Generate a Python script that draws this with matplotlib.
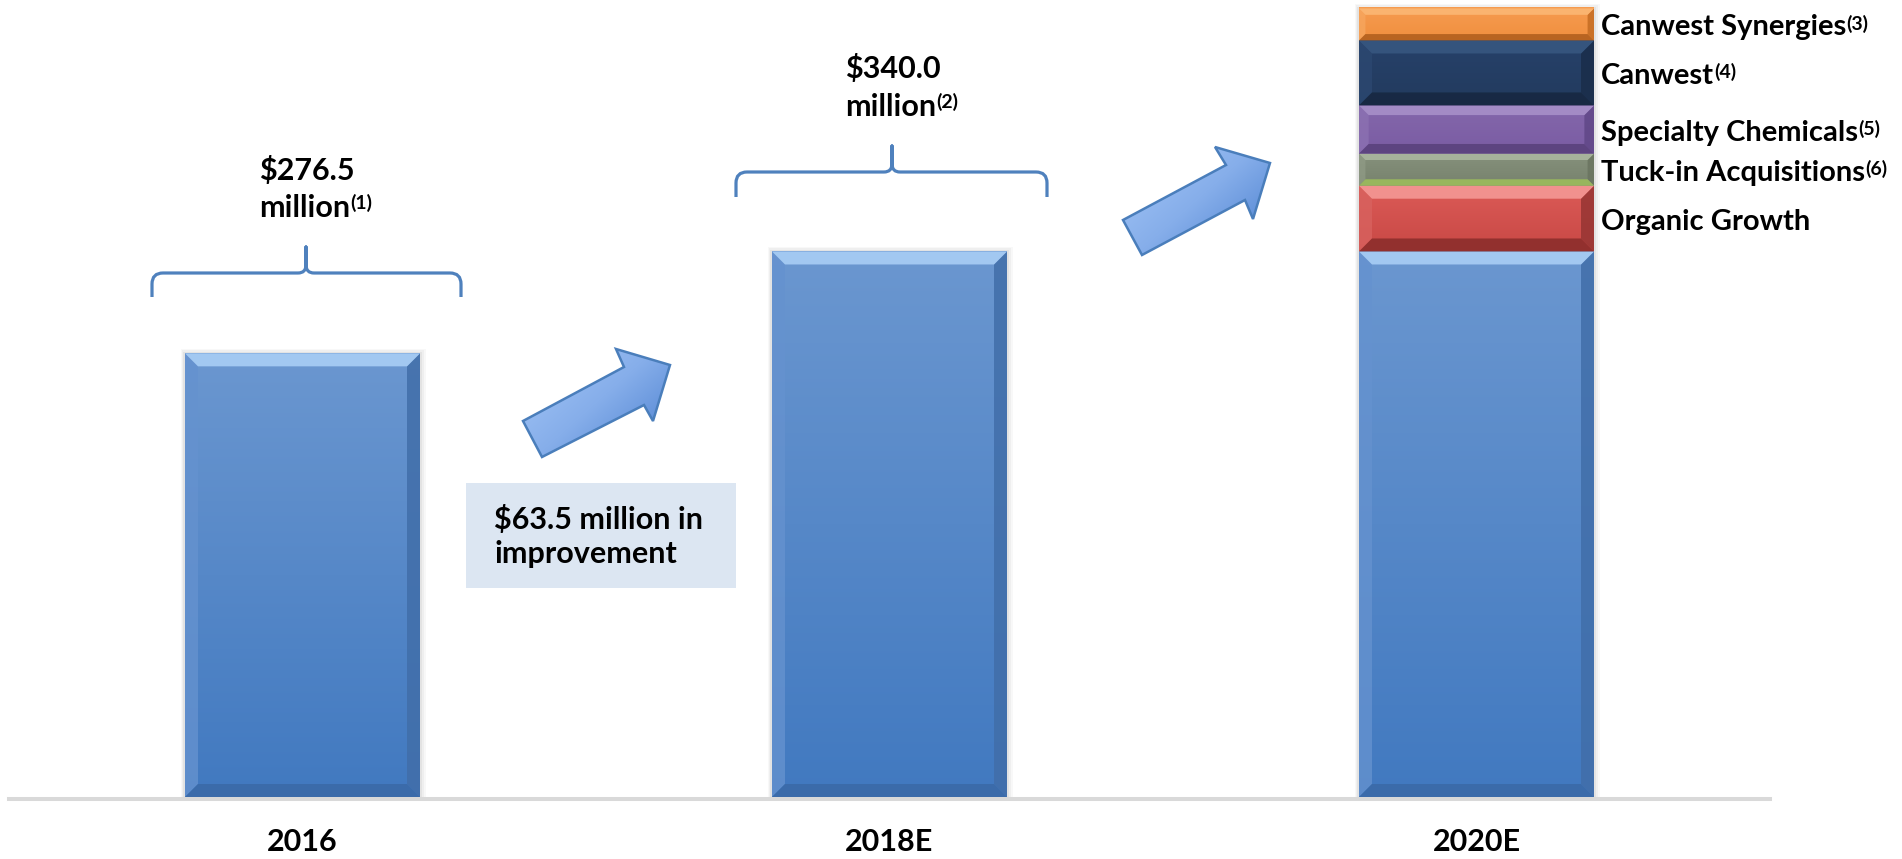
import numpy as np
import matplotlib
matplotlib.use('Agg')
import matplotlib.pyplot as plt
from matplotlib.patches import Rectangle, Polygon, PathPatch
from matplotlib.path import Path
from matplotlib.colors import LinearSegmentedColormap

# ---------------- data ----------------
categories = ['2016', '2018E', '2020E']
base_values = [276.5, 340.0, 340.0]
segment_names = ['Organic Growth', 'Tuck-in Acquisitions', 'Specialty Chemicals', 'Canwest', 'Canwest Synergies']
segment_notes = ['', '(6)', '(5)', '(4)', '(3)']
segment_values = [41.0, 20.0, 30.0, 40.5, 20.0]
value_labels = ['$276.5', '$340.0']
value_word = 'million'
value_notes = ['(1)', '(2)']
improvement_lines = ['$63.5 million in', 'improvement']

# ---------------- styles ----------------
FONT = 'Lato'
W, H = 1902, 859
PX_X = 587.0     # pixels per category step
PX_Y = 1.6045    # pixels per million
BASE_PX = 797    # baseline, px from top

blue_style = dict(top='#6b97d0', bot='#4179c0', tb='#a6cbf3', bb='#3b6aa8', lb='#6592cf', rb='#416ea9')
seg_styles = [
    dict(top='#dc5b57', bot='#c84845', tb='#f39592', bb='#8c2e2c', lb='#d8625f', rb='#963533'),  # organic (red)
    dict(top='#86917c', bot='#77826d', tb='#a9b59d', bb='#9cbc5c', lb='#8f9a85', rb='#6a7460'),  # tuck-in (olive)
    dict(top='#8467ab', bot='#7a5ca3', tb='#a58ec7', bb='#5a427d', lb='#8c71b2', rb='#604787'),  # specialty (purple)
    dict(top='#27416a', bot='#223b5e', tb='#36567f', bb='#172841', lb='#2c4871', rb='#1a2d4a'),  # canwest (navy)
    dict(top='#f69c50', bot='#f08f3f', tb='#fbb673', bb='#b2601e', lb='#f7a65e', rb='#c46c23'),  # synergies (orange)
]

fig = plt.figure(figsize=(W / 100, H / 100), dpi=100)
ax = fig.add_axes([0, (H - BASE_PX) / H, 1, BASE_PX / H])
x_left = -302.5 / PX_X
XLIM = (x_left, x_left + W / PX_X)
YLIM = (0, BASE_PX / PX_Y)


def bevel_bar(patch, st, z):
    x0, y0 = patch.get_x(), patch.get_y()
    w, h = patch.get_width(), patch.get_height()
    x1, y1 = x0 + w, y0 + h
    b = min(13.0, 0.2 * h * PX_Y)
    bx, by = b / PX_X, b / PX_Y
    cmap = LinearSegmentedColormap.from_list('g', [st['bot'], st['top']])
    grad = np.linspace(0, 1, 256).reshape(-1, 1)
    ax.imshow(grad, extent=(x0, x1, y0, y1), origin='lower', cmap=cmap,
              aspect='auto', zorder=z, interpolation='bicubic')
    polys = [
        ([(x0, y0), (x0 + bx, y0 + by), (x0 + bx, y1 - by), (x0, y1)], st['lb'], 0.8),
        ([(x1, y0), (x1 - bx, y0 + by), (x1 - bx, y1 - by), (x1, y1)], st['rb'], 0.85),
        ([(x0, y1), (x1, y1), (x1 - bx, y1 - by), (x0 + bx, y1 - by)], st['tb'], 0.95),
        ([(x0, y0), (x1, y0), (x1 - bx, y0 + by), (x0 + bx, y0 + by)], st['bb'], 0.9),
    ]
    for pts, c, a in polys:
        ax.add_patch(Polygon(pts, closed=True, facecolor=c, edgecolor='none', zorder=z + 0.1, alpha=a))


def shadow(x0, x1, ytop, z):
    for k, a in [(7, 0.05), (5, 0.07), (3, 0.10)]:
        ax.add_patch(Rectangle((x0 - k * 0.6 / PX_X, 0), (x1 - x0) + k * 1.4 / PX_X, ytop + k * 0.6 / PX_Y,
                               facecolor='#7f7f7f', edgecolor='none', alpha=a, zorder=z))


x = np.arange(len(categories))
bw = 235 / PX_X
bars = ax.bar(x, base_values, width=bw, color=blue_style['bot'], zorder=3)
seg_patches = []
bottom = base_values[2]
for v, st in zip(segment_values, seg_styles):
    p = ax.bar(x[2], v, bottom=bottom, width=bw, color=st['bot'], zorder=3)[0]
    seg_patches.append(p)
    bottom += v

for i, p in enumerate(bars):
    top = base_values[i] + (sum(segment_values) if i == 2 else 0)
    shadow(p.get_x(), p.get_x() + bw, top, 2)
    bevel_bar(p, blue_style, 4)
for p, st in zip(seg_patches, seg_styles):
    bevel_bar(p, st, 4)

# right side labels for the 2020E stack
for p, name, note in zip(seg_patches, segment_names, segment_notes):
    yc = p.get_y() + p.get_height() / 2
    t = ax.annotate(name, xy=(p.get_x() + bw, yc), xytext=(7, -11), textcoords='offset pixels',
                    ha='left', va='baseline', fontfamily=FONT, fontweight='bold', fontsize=21, zorder=10)
    if note:
        ax.annotate(note, xy=(1, 1), xycoords=t, xytext=(0, 0), textcoords='offset pixels',
                    ha='left', va='top', fontfamily=FONT, fontweight='bold', fontsize=14, zorder=10)

# category labels under the baseline
for xi, cat in zip(x, categories):
    ax.annotate(cat, xy=(xi, 0), xytext=(0, -54), textcoords='offset pixels', ha='center',
                va='baseline', fontfamily=FONT, fontweight='bold', fontsize=22, annotation_clip=False)

ax.set_xlim(*XLIM)
ax.set_ylim(*YLIM)
ax.set_yticks([])
ax.set_xticks([])
for s in ['top', 'left', 'right']:
    ax.spines[s].set_visible(False)
ax.spines['bottom'].set_color('#d9d9d9')
ax.spines['bottom'].set_linewidth(2.9)
ax.spines['bottom'].set_position(('outward', 1.4))
ax.spines['bottom'].set_bounds(-0.5, 2.5)
ax.spines['bottom'].set_zorder(1)
ax.set_xticks([])
ax.patch.set_alpha(0)

# ---------------- overlay in pixel coordinates ----------------
ov = fig.add_axes([0, 0, 1, 1])
ov.set_xlim(0, W)
ov.set_ylim(H, 0)
ov.axis('off')
ov.patch.set_alpha(0)


def brace(xl, xr, xc, yline, ytip, ypeak, r=11, rc=8):
    verts = [(xl, ytip), (xl, yline + r), (xl, yline), (xl + r, yline),
             (xc - rc, yline), (xc, yline), (xc, yline - rc), (xc, ypeak),
             (xc, yline - rc), (xc, yline), (xc + rc, yline),
             (xr - r, yline), (xr, yline), (xr, yline + r), (xr, ytip)]
    codes = [Path.MOVETO, Path.LINETO, Path.CURVE3, Path.CURVE3,
             Path.LINETO, Path.CURVE3, Path.CURVE3, Path.LINETO,
             Path.LINETO, Path.CURVE3, Path.CURVE3,
             Path.LINETO, Path.CURVE3, Path.CURVE3, Path.LINETO]
    ov.add_patch(PathPatch(Path(verts, codes), fill=False, edgecolor='#4f81bd', lw=2.3,
                           capstyle='butt', joinstyle='round'))


brace(152, 461, 306, 273, 297, 247)
brace(736, 1047, 892, 172, 197, 146)


def arrow(pts):
    poly = Polygon(pts, closed=True, facecolor='none', edgecolor='#4a7ebb', lw=1.8, zorder=6)
    xs = [p[0] for p in pts]
    ys = [p[1] for p in pts]
    gx, gy = np.meshgrid(np.linspace(0, 1, 64), np.linspace(0, 1, 64))
    g = 0.55 * gx + 0.45 * gy
    cmap = LinearSegmentedColormap.from_list('a', ['#a6c8f8', '#86aeea', '#4a7fcf'])
    im = ov.imshow(g, extent=(min(xs), max(xs), max(ys), min(ys)), cmap=cmap, aspect='auto',
                   zorder=5, interpolation='bicubic')
    fill = Polygon(pts, closed=True, transform=ov.transData)
    im.set_clip_path(fill)
    ov.add_patch(poly)


arrow([(523, 421), (542, 457), (644, 405), (653, 421), (670, 365), (616, 349), (624, 367)])
arrow([(1123, 220), (1142, 255), (1245, 200), (1253, 219), (1270, 163), (1215, 147), (1226, 165)])

# improvement box
ov.add_patch(Rectangle((466, 483), 270, 105, facecolor='#dce6f2', edgecolor='none', zorder=1))
ov.text(494, 529, improvement_lines[0], ha='left', va='baseline', fontfamily=FONT,
        fontweight='bold', fontsize=22, zorder=7)
ov.text(494, 563, improvement_lines[1], ha='left', va='baseline', fontfamily=FONT,
        fontweight='bold', fontsize=22, zorder=7)

# value labels above braces
for (xl, yb1, yb2), lab, note in zip([(259, 180, 217), (845, 78, 116)], value_labels, value_notes):
    ov.text(xl, yb1, lab, ha='left', va='baseline', fontfamily=FONT, fontweight='bold', fontsize=22)
    t = ov.text(xl, yb2, value_word, ha='left', va='baseline', fontfamily=FONT, fontweight='bold', fontsize=22)
    ov.annotate(note, xy=(1, 1), xycoords=t, xytext=(0, 0), textcoords='offset pixels',
                ha='left', va='top', fontfamily=FONT, fontweight='bold', fontsize=14)

ov.set_xlim(0, W)
ov.set_ylim(H, 0)
fig.savefig('out.png', dpi=100)
